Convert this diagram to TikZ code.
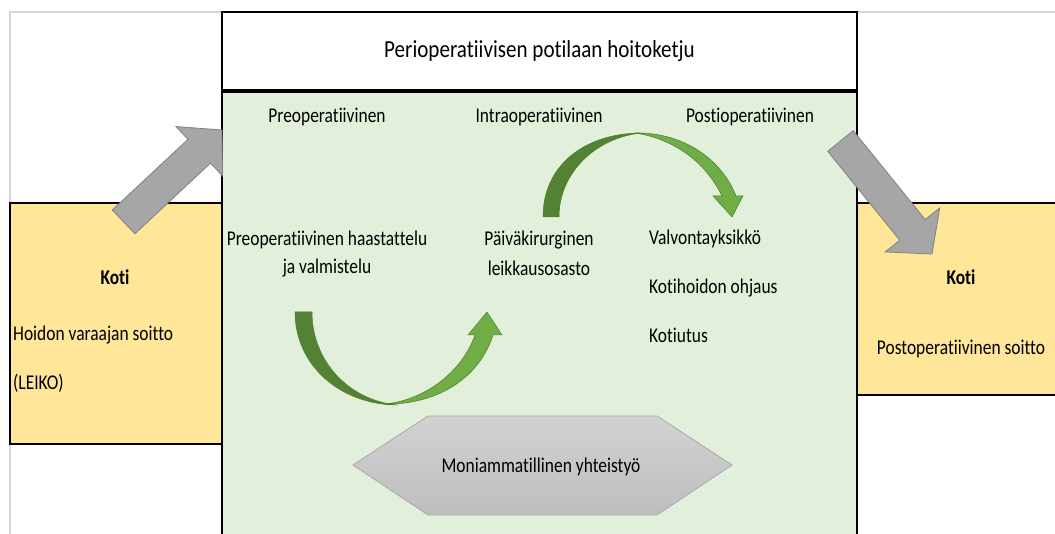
\documentclass[tikz,border=0pt]{standalone}
\usepackage{fontspec}
\setmainfont{Carlito}[FakeStretch=0.83,Ligatures=NoCommon]
\newfontfamily\titlefont{Carlito}[FakeStretch=0.86,Ligatures=NoCommon]
\usetikzlibrary{arrows,positioning,shapes,calc}

\definecolor{kotiyellow}{HTML}{FFE699}
\definecolor{phasegreen}{HTML}{E2EFDA}
\definecolor{darkleaf}{HTML}{548235}
\definecolor{lightleaf}{HTML}{70AD47}
\definecolor{leafedge}{HTML}{4E7A30}
\definecolor{arrowgray}{HTML}{A6A6A6}
\definecolor{arrowedge}{HTML}{808080}
\definecolor{hextop}{HTML}{D2D2D2}
\definecolor{hexbottom}{HTML}{BEBEBE}
\definecolor{hexedge}{HTML}{A8A8A8}
\definecolor{gridgray}{HTML}{D4D4D4}

% block arrow from tail (#1) to tip (#2), half widths #3 (shaft) and #4 (head)
\newcommand{\grayarrow}[4]{%
  \draw[bigarrow] let \p1=($(#2)-(#1)$), \n1={atan2(\y1,\x1)}, \n2={veclen(\x1,\y1)-31pt} in
    ($(#1)+(\n1+90:#3)$) -- ++(\n1:\n2) -- ++(\n1+90:#4-#3) -- (#2)
    -- ($(#2)+(\n1+180:31pt)+(\n1-90:#4)$) -- ++(\n1+90:#4-#3) -- ++(\n1+180:\n2) -- cycle;
}

\begin{document}
\begin{tikzpicture}[x=1pt,y=-1pt,font=\fontsize{21}{28}\selectfont]
\tikzstyle{frame}=[draw=black,line width=2.2pt,inner sep=0pt]
\tikzstyle{kotibox}=[frame,fill=kotiyellow]
\tikzstyle{bigarrow}=[fill=arrowgray,draw=arrowedge,line width=0.8pt,line join=miter]
\tikzstyle{leafdark}=[fill=darkleaf,draw=leafedge,line width=0.5pt]
\tikzstyle{leaflight}=[fill=lightleaf,draw=leafedge,line width=0.5pt]
\tikzstyle{hexa}=[draw=hexedge,line width=0.8pt,top color=hextop,bottom color=hexbottom]
\tikzstyle{steptext}=[inner sep=0pt,align=center]
\tikzstyle{listtext}=[inner sep=0pt,anchor=west,text height=14pt,text depth=5pt]
\tikzstyle{kotihead}=[inner sep=0pt,font=\fontsize{21}{28}\selectfont\bfseries]

\useasboundingbox (0,0) rectangle (1055,534);
\draw[gridgray,line width=1.5pt] (10,534) -- (10,12) -- (1055,12);

% home boxes
\node[kotibox,minimum width=212pt,minimum height=241pt] (kotiL) at (116,323.5) {};
\node[kotibox,minimum width=210pt,minimum height=192pt] (kotiR) at (962,299) {};

% care chain
\node[frame,fill=white,minimum width=635pt,minimum height=78pt,font=\titlefont\fontsize{24.5}{28}\selectfont] (title) at (539.5,51) {Perioperatiivisen potilaan hoitoketju};
\node[frame,fill=phasegreen,minimum width=635pt,minimum height=470pt,below=0pt of title] (chain) {};

\node[steptext] (pre) at (327,117) {Preoperatiivinen};
\node[steptext] (intra) [right of=pre, node distance=212pt] {Intraoperatiivinen};
\node[steptext] (post) [right of=intra, node distance=211pt] {Postioperatiivinen};

\node[steptext] (haast) [below of=pre, node distance=137pt] {Preoperatiivinen haastattelu\\ja valmistelu};
\node[steptext] (paiva) [below of=intra, node distance=136pt] {Päiväkirurginen\\[2pt]leikkausosasto};

\node[listtext] (valvo) at (649,240) {Valvontayksikkö};
\node (ohjaus) [below=49pt of valvo.west, listtext] {Kotihoidon ohjaus};
\node (kotiutus) [below=49pt of ohjaus.west, listtext] {Kotiutus};

% left home
\node[kotihead] (kotiLhead) at (115,277) {Koti};
\node[listtext] (soitto) at (13,336) {Hoidon varaajan soitto};
\node (leiko) [below=49pt of soitto.west, listtext] {(LEIKO)};

% right home
\node[kotihead] (kotiRhead) at (961,277) {Koti};
\node[steptext] (postsoitto) [below of=kotiRhead, node distance=72pt] {Postoperatiivinen soitto};

% collaboration
\path[hexa] (353,465) -- (428,416) -- (657,416) -- (732,465) -- (657,515) -- (428,515) -- cycle;
\node[steptext] (collab) at (541,467) {Moniammatillinen yhteistyö};

% curved green arrows
\path[leafdark] (295,312) .. controls (295,365) and (340,405) .. (398,405) .. controls (350,401) and (312,362) .. (312,312) -- cycle;
\path[leaflight] (385,404) .. controls (432,405) and (478,382) .. (493,335) -- (502,335) -- (487,312) -- (468,335) -- (475,335) .. controls (462,372) and (425,400) .. (385,404) -- cycle;

\path[leafdark] (543,217) .. controls (543,165) and (585,133) .. (642,133) .. controls (597,137) and (559,172) .. (559,217) -- cycle;
\path[leaflight] (635,133) .. controls (684,132) and (722,160) .. (736,196) -- (743,196) -- (732,217) -- (713,196) -- (722,196) .. controls (706,163) and (675,139) .. (635,133) -- cycle;

% gray transfer arrows
\coordinate (inTail) at (123.5,222);
\coordinate (inTip) at (222,130);
\coordinate (outTail) at (840.5,141);
\coordinate (outTip) at (932,254);
\grayarrow{inTail}{inTip}{16.4pt}{34pt}
\grayarrow{outTail}{outTip}{16.4pt}{35pt}
\end{tikzpicture}
\end{document}
